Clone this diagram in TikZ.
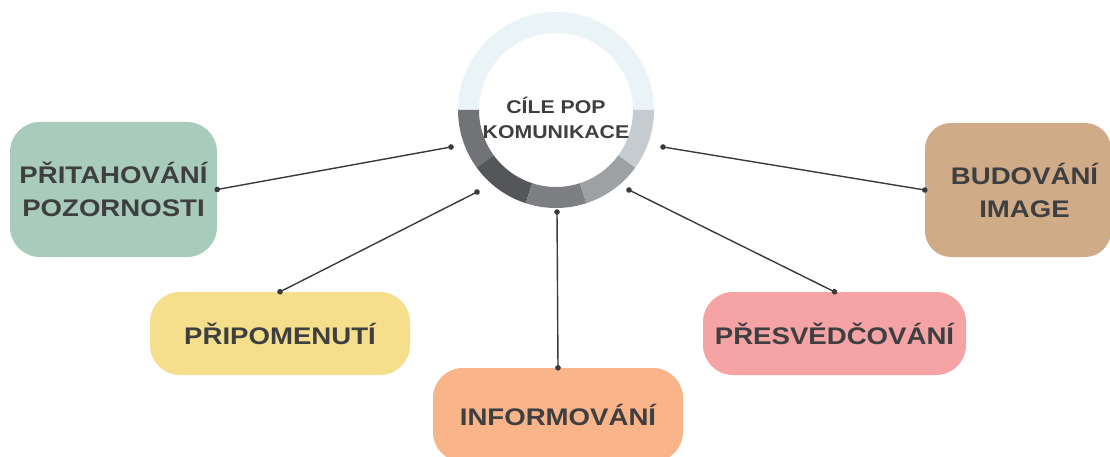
\documentclass[tikz,border=0pt]{standalone}
\usepackage{fontspec}
\newfontfamily\lab[FakeStretch=1.15]{Liberation Sans Bold}
\usetikzlibrary{arrows.meta}
\definecolor{txt}{HTML}{3E3F40}
\definecolor{linec}{HTML}{3A3A3C}
\definecolor{ringtop}{HTML}{EAF3F5}
\definecolor{sega}{HTML}{727376}
\definecolor{segb}{HTML}{55565A}
\definecolor{segc}{HTML}{7E7F83}
\definecolor{segd}{HTML}{9DA1A4}
\definecolor{sege}{HTML}{C5CBCE}
\definecolor{cgreen}{HTML}{A8CBBB}
\definecolor{ctan}{HTML}{D0AB88}
\definecolor{corange}{HTML}{F9B48A}
\definecolor{cpink}{HTML}{F5A3A5}
\definecolor{cyellow}{HTML}{F6DF8C}
\begin{document}
\begin{tikzpicture}[x=1pt,y=1pt,
  box/.style={draw=none, rounded corners=30pt, inner sep=0pt, align=center, text=txt,
    font=\lab\fontsize{24}{33}\selectfont},
  link/.style={draw=linec, line width=1.4pt,
    {Circle[length=5.5pt]}-{Circle[length=5.5pt]}, shorten <=-2.75pt, shorten >=-2.75pt}]
\useasboundingbox (0,0) rectangle (1110,-457);
% ring
\coordinate (c) at (556,-110);
\fill[ringtop, shift={(556,-110)}] (0:98pt) arc[start angle=0, end angle=180, radius=98pt] -- (180:77pt) arc[start angle=180, end angle=0, radius=77pt] -- cycle;
\foreach \a/\b/\col in {180/216/sega, 216/252/segb, 252/288/segc, 288/324/segd, 324/360/sege}{
  \fill[\col, shift={(556,-110)}] (\a:98pt) arc[start angle=\a, end angle=\b, radius=98pt] -- (\b:77pt) arc[start angle=\b, end angle=\a, radius=77pt] -- cycle;
}
\node[align=center, text=txt, font=\lab\fontsize{18.5}{25}\selectfont] (title) at (556,-118) {CÍLE POP\\KOMUNIKACE};
% boxes
\node[box, fill=cgreen, minimum width=207pt, minimum height=135pt] (green) at (113.5,-189.5) {PŘITAHOVÁNÍ\\POZORNOSTI};
\node[box, fill=ctan, rounded corners=26pt, minimum width=186pt, minimum height=134pt] (tan) at (1018,-190) {\hspace*{13pt}BUDOVÁNÍ\\\hspace*{13pt}IMAGE};
\node[box, fill=corange, minimum width=250pt, minimum height=94pt] (orange) at (558,-415) {INFORMOVÁNÍ};
\node[box, fill=cyellow, minimum width=260pt, minimum height=83pt] (yellow) at (280,-333.5) {PŘIPOMENUTÍ};
\node[box, fill=cpink, minimum width=263pt, minimum height=83pt] (pink) at (834.5,-333.5) {PŘESVĚDČOVÁNÍ};
% ring ends
\coordinate (rL) at (451,-147);
\coordinate (rY) at (477,-192);
\coordinate (rB) at (557,-212);
\coordinate (rP) at (629,-190);
\coordinate (rR) at (663,-147);
\draw[link] (green.east) -- (rL);
\draw[link] (yellow.north) -- (rY);
\draw[link] (orange.north) -- (rB);
\draw[link] (pink.north) -- (rP);
\draw[link] (tan.west) -- (rR);
\end{tikzpicture}
\end{document}
